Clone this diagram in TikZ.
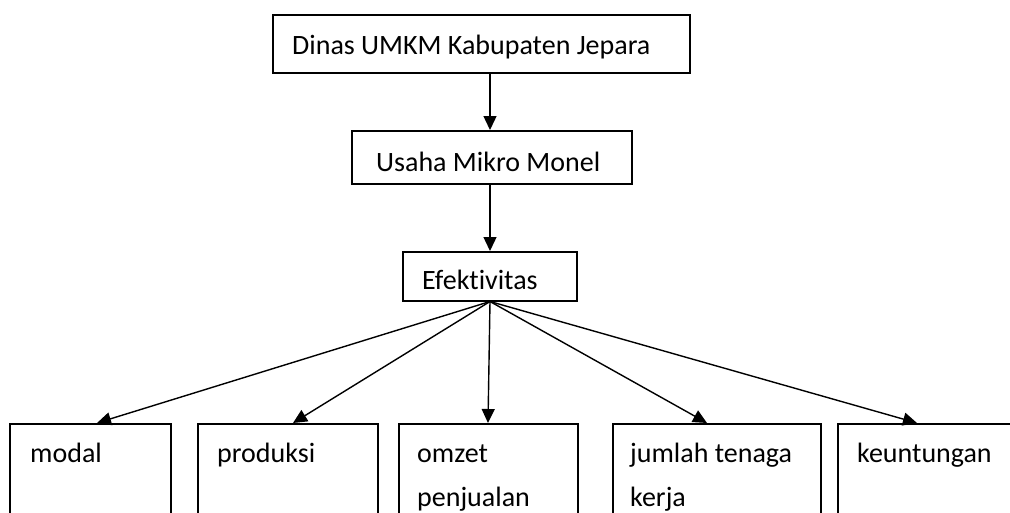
\documentclass[tikz,border=0pt]{standalone}
\usepackage{fontspec}
\setmainfont{Carlito}[Ligatures={NoCommon}]
\usetikzlibrary{arrows.meta,calc}
\tikzset{
  box/.style={draw, line width=1.5pt, rectangle, inner sep=0pt, anchor=north west},
  lbl/.style={anchor=base west, inner sep=0pt, font=\fontsize{28}{28}\selectfont},
  arr/.style={line width=1.4pt, -{Triangle[length=14pt,width=13pt]}}
}
\begin{document}
\begin{tikzpicture}[x=1pt,y=-1pt]
\useasboundingbox (0,0) rectangle (1010,512);
\clip (0,0) rectangle (1010,512);
% top chain
\node[box, minimum width=417pt, minimum height=58pt] (top) at (272,14) {};
\node[lbl] (topt) at (292,54) {Dinas UMKM Kabupaten Jepara};
\node[box, minimum width=280pt, minimum height=53pt] (mid) at (351,130) {};
\node[lbl] (midt) at (376,171) {Usaha Mikro Monel};
\node[box, minimum width=174pt, minimum height=49pt] (eff) at (402,251) {};
\node[lbl] (efft) at (422,289) {Efektivitas};
% bottom boxes
\node[box, minimum width=161pt, minimum height=120pt] (b1) at (9,423) {};
\node[box, minimum width=180pt, minimum height=120pt] (b2) at (197,423) {};
\node[box, minimum width=179pt, minimum height=120pt] (b3) at (398,423) {};
\node[box, minimum width=208pt, minimum height=120pt] (b4) at (612,423) {};
\node[box, minimum width=220pt, minimum height=120pt] (b5) at (837,423) {};
\node[lbl] (t1) at (30,462) {modal};
\node[lbl] (t2) at (217,462) {produksi};
\node[lbl] (t3) at (417,462) {omzet};
\node[lbl] (t3b) at (417,506) {penjualan};
\node[lbl] (t4) at (630,462) {jumlah tenaga};
\node[lbl] (t4b) at (630,506) {kerja};
\node[lbl] (t5) at (857,462) {keuntungan};
% connectors
\draw[arr] ($(top.south west)+(218,0)$) -- ($(mid.north west)+(139,0)$);
\draw[arr] ($(mid.south west)+(139,0)$) -- ($(eff.north west)+(88,0)$);
\coordinate (o) at ($(eff.south west)+(88,0)$);
\draw[arr] (o) -- ($(b1.north west)+(88,0)$);
\draw[arr] (o) -- ($(b2.north west)+(96,0)$);
\draw[arr] (o) -- ($(b3.north west)+(90,0)$);
\draw[arr] (o) -- ($(b4.north west)+(95,0)$);
\draw[arr] (o) -- ($(b5.north west)+(80,0)$);
\end{tikzpicture}
\end{document}
